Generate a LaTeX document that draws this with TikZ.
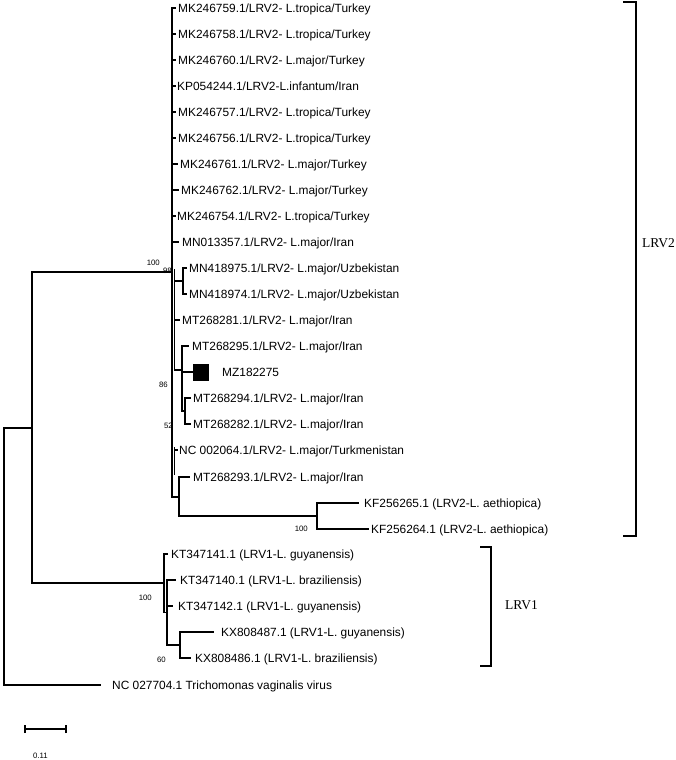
\documentclass[tikz,border=0pt]{standalone}
\usepackage{fontspec}
\setmainfont{Liberation Sans}
\newfontfamily\cladefont{Liberation Serif}
\begin{document}
\begin{tikzpicture}[x=1pt,y=-1pt,
  br/.style={line width=1.2pt, line cap=rect},
  tx/.style={anchor=base west, inner sep=0pt, font=\fontsize{11.9}{12}\selectfont},
  bs/.style={anchor=base east, inner sep=0pt, font=\fontsize{7.8}{8}\selectfont},
  cladelbl/.style={anchor=west, inner sep=0pt, font=\cladefont\fontsize{13.5}{14}\selectfont},
  brk/.style={line width=1.4pt},
  sbar/.style={line width=1.3pt}]
\useasboundingbox (0,0) rectangle (676,760);

% ---------- internal nodes ----------
\coordinate (root) at (4,556);
\coordinate (rootT) at (4,428);
\coordinate (rootB) at (4,685);
\coordinate (lrv) at (32,428);
\coordinate (R2) at (172,272);
\coordinate (R2T) at (172,8);
\coordinate (R2B) at (172,497);
\coordinate (S1) at (174.5,296);
\coordinate (S1T) at (174.5,270);
\coordinate (S1B) at (174.5,370);
\coordinate (S2T) at (174.5,448);
\coordinate (S2B) at (174.5,474);
\coordinate (U) at (183,281);
\coordinate (Q) at (182,370);
\coordinate (P) at (185,411);
\coordinate (M) at (179,497);
\coordinate (KF) at (317,516);
\coordinate (A) at (164,583);
\coordinate (B) at (167,612.5);
\coordinate (C) at (180,645);

% ---------- leaf tips ----------
\coordinate (t1) at (175,8);
\coordinate (t2) at (175,34);
\coordinate (t3) at (175,60);
\coordinate (t4) at (175,86);
\coordinate (t5) at (175,112);
\coordinate (t6) at (175,138);
\coordinate (t7) at (177,164);
\coordinate (t8) at (178,190);
\coordinate (t9) at (175,216);
\coordinate (t10) at (178,242);
\coordinate (t11) at (186,268);
\coordinate (t12) at (186,294);
\coordinate (t13) at (179,320);
\coordinate (t14) at (188,346);
\coordinate (t15) at (193,372);
\coordinate (t16) at (190,398);
\coordinate (t17) at (190,424);
\coordinate (t18) at (177,450);
\coordinate (t19) at (189,477);
\coordinate (t20) at (358,503);
\coordinate (t21) at (368,529);
\coordinate (t22) at (167,554);
\coordinate (t23) at (175,580);
\coordinate (t24) at (172,606);
\coordinate (t25) at (213,632);
\coordinate (t26) at (190,658);
\coordinate (t27) at (100,685);

% ---------- branches ----------
\draw[br] (rootT) -- (rootB) -- (t27);
\draw[br] (rootT) -- (lrv);
\draw[br] (lrv) |- (R2);
\draw[br] (lrv) |- (A);
% LRV2
\draw[br] (R2T) -- (R2B);
\foreach \t in {t1,t2,t3,t4,t5,t6,t7,t8,t9,t10} \draw[br] (R2) |- (\t);
\draw[br] (S1T) -- (S1B);
\draw[br] (S2T) -- (S2B);
\draw[br] (S1) |- (U);
\draw[br] (U) |- (t11);
\draw[br] (U) |- (t12);
\draw[br] (S1) |- (t13);
\draw[br] (S1) |- (Q);
\draw[br] (Q) |- (t14);
\draw[br] (Q) |- (t15);
\draw[br] (Q) |- (P);
\draw[br] (P) |- (t16);
\draw[br] (P) |- (t17);
\draw[br] (S2T) |- (t18);
\draw[br] (R2) |- (M);
\draw[br] (M) |- (t19);
\draw[br] (M) |- (KF);
\draw[br] (KF) |- (t20);
\draw[br] (KF) |- (t21);
% LRV1
\draw[br] (A) |- (t22);
\draw[br] (A) |- (B);
\draw[br] (B) |- (t23);
\draw[br] (B) |- (t24);
\draw[br] (B) |- (C);
\draw[br] (C) |- (t25);
\draw[br] (C) |- (t26);

% ---------- leaf labels ----------
\node[tx] (n1) at (178,12.3) {MK246759.1/LRV2- L.tropica/Turkey};
\node[tx] (n2) at (178,38.3) {MK246758.1/LRV2- L.tropica/Turkey};
\node[tx] (n3) at (178,64.3) {MK246760.1/LRV2- L.major/Turkey};
\node[tx] (n4) at (177,90.3) {KP054244.1/LRV2-L.infantum/Iran};
\node[tx] (n5) at (178,116.3) {MK246757.1/LRV2- L.tropica/Turkey};
\node[tx] (n6) at (178,142.3) {MK246756.1/LRV2- L.tropica/Turkey};
\node[tx] (n7) at (180,168.3) {MK246761.1/LRV2- L.major/Turkey};
\node[tx] (n8) at (181,194.3) {MK246762.1/LRV2- L.major/Turkey};
\node[tx] (n9) at (177,220.3) {MK246754.1/LRV2- L.tropica/Turkey};
\node[tx] (n10) at (182,246.3) {MN013357.1/LRV2- L.major/Iran};
\node[tx] (n11) at (189,272.3) {MN418975.1/LRV2- L.major/Uzbekistan};
\node[tx] (n12) at (189,298.3) {MN418974.1/LRV2- L.major/Uzbekistan};
\node[tx] (n13) at (182,324.3) {MT268281.1/LRV2- L.major/Iran};
\node[tx] (n14) at (192,350.3) {MT268295.1/LRV2- L.major/Iran};
\node[fill=black, inner sep=0pt, minimum width=16pt, minimum height=17pt, anchor=west] (sq) at (193,372.5) {};
\node[tx] (n15) at (222,376.3) {MZ182275};
\node[tx] (n16) at (193,402.3) {MT268294.1/LRV2- L.major/Iran};
\node[tx] (n17) at (193,428.3) {MT268282.1/LRV2- L.major/Iran};
\node[tx] (n18) at (179,454.3) {NC 002064.1/LRV2- L.major/Turkmenistan};
\node[tx] (n19) at (193,481.3) {MT268293.1/LRV2- L.major/Iran};
\node[tx] (n20) at (364,507.3) {KF256265.1 (LRV2-L. aethiopica)};
\node[tx] (n21) at (371,533.3) {KF256264.1 (LRV2-L. aethiopica)};
\node[tx] (n22) at (171,558.3) {KT347141.1 (LRV1-L. guyanensis)};
\node[tx] (n23) at (180,584.3) {KT347140.1 (LRV1-L. braziliensis)};
\node[tx] (n24) at (178,610.3) {KT347142.1 (LRV1-L. guyanensis)};
\node[tx] (n25) at (221,636.3) {KX808487.1 (LRV1-L. guyanensis)};
\node[tx] (n26) at (195,662.3) {KX808486.1 (LRV1-L. braziliensis)};
\node[tx] (n27) at (112,689.3) {NC 027704.1 Trichomonas vaginalis virus};

% ---------- bootstrap values ----------
\node[bs] (b1) at (160,265) {100};
\node[bs] (b2) at (172,273) {98};
\node[bs] (b3) at (168,387) {86};
\node[bs] (b4) at (173,428) {52};
\node[bs] (b5) at (308,531) {100};
\node[bs] (b6) at (152,600) {100};
\node[bs] (b7) at (166,662) {60};

% ---------- clade brackets ----------
\coordinate (k2a) at (623,2);
\coordinate (k2b) at (636,2);
\coordinate (k2c) at (636,536);
\coordinate (k2d) at (623,536);
\draw[brk] (k2a) -- (k2b) -- (k2c) -- (k2d);
\node[cladelbl] (lrv2lbl) at (642,243) {LRV2};
\coordinate (k1a) at (480,547);
\coordinate (k1b) at (491,547);
\coordinate (k1c) at (491,666);
\coordinate (k1d) at (480,666);
\draw[brk] (k1a) -- (k1b) -- (k1c) -- (k1d);
\node[cladelbl] (lrv1lbl) at (505,605) {LRV1};

% ---------- scale bar ----------
\coordinate (s1) at (25,729);
\coordinate (s2) at (66,729);
\draw[sbar] (s1) -- (s2);
\draw[sbar] ([yshift=-4pt]s1) -- ([yshift=4pt]s1);
\draw[sbar] ([yshift=-4pt]s2) -- ([yshift=4pt]s2);
\node[inner sep=0pt, font=\fontsize{7.8}{8}\selectfont] (sl) at (40.5,756) {0.11};
\end{tikzpicture}
\end{document}
